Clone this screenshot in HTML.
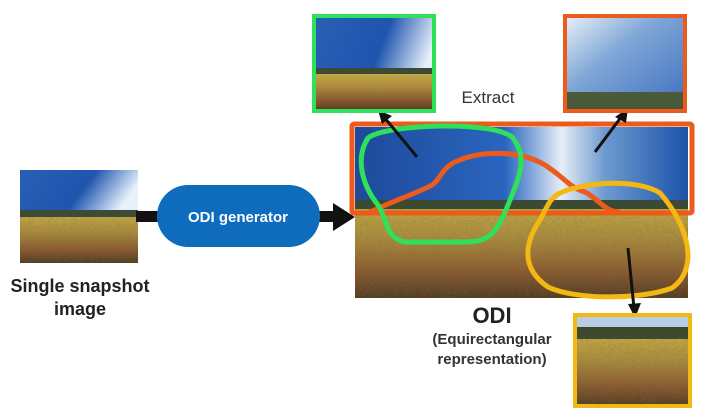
<!DOCTYPE html>
<html><head><meta charset="utf-8"><style>
html,body{margin:0;padding:0;background:#fff;}
svg{display:block;}
text{font-family:"Liberation Sans",sans-serif;}
</style></head><body>
<svg width="709" height="420" viewBox="0 0 709 420" xmlns="http://www.w3.org/2000/svg">
<defs>
<linearGradient id="skyL" x1="0" y1="0" x2="1" y2="0.3">
<stop offset="0" stop-color="#2a5fb5"/><stop offset="0.6" stop-color="#1f55ae"/><stop offset="1" stop-color="#e8f1fb"/>
</linearGradient>
<linearGradient id="field" x1="0" y1="0" x2="0" y2="1">
<stop offset="0" stop-color="#c2a845"/><stop offset="0.35" stop-color="#a98a3c"/><stop offset="0.7" stop-color="#8a5a30"/><stop offset="1" stop-color="#4e3a22"/>
</linearGradient>
<linearGradient id="pano" x1="0" y1="0" x2="1" y2="0">
<stop offset="0" stop-color="#1e4a9a"/><stop offset="0.45" stop-color="#2a65c0"/><stop offset="0.62" stop-color="#e6eef7"/><stop offset="0.75" stop-color="#6d9ad0"/><stop offset="1" stop-color="#1d52a8"/>
</linearGradient>
<linearGradient id="skyO" x1="0" y1="0" x2="1" y2="1">
<stop offset="0" stop-color="#e9f1fa"/><stop offset="0.4" stop-color="#7fa6d6"/><stop offset="1" stop-color="#3c6fc0"/>
</linearGradient>
<filter id="tex"><feTurbulence baseFrequency="0.35" numOctaves="2" seed="3"/><feColorMatrix values="0 0 0 0 0.2  0 0 0 0 0.15  0 0 0 0 0.05  0 0 0 0.5 0"/><feComposite in2="SourceGraphic" operator="in"/></filter>
</defs>

<rect x="20" y="170" width="118" height="48" fill="url(#skyL)"/>
<rect x="20" y="210" width="118" height="7" fill="#3d4a35"/>
<rect x="20" y="217" width="118" height="46" fill="url(#field)"/>
<rect x="20" y="217" width="118" height="46" fill="#000" filter="url(#tex)"/>
<rect x="136" y="211" width="24" height="11" fill="#111"/>
<rect x="318" y="211" width="18" height="11" fill="#111"/>
<polygon points="333,203 355,217 333,231" fill="#111"/>
<rect x="157" y="185" width="163" height="62" rx="31" fill="#0f6cbd"/>
<text x="238" y="222" font-size="15" font-weight="bold" fill="#fff" text-anchor="middle">ODI generator</text>
<text x="80" y="292" font-size="18" font-weight="bold" fill="#222" text-anchor="middle">Single snapshot</text>
<text x="80" y="315" font-size="18" font-weight="bold" fill="#222" text-anchor="middle">image</text>

<rect x="355" y="127" width="333" height="82" fill="url(#pano)"/>
<rect x="355" y="200" width="333" height="9" fill="#3b4a33"/>
<rect x="355" y="209" width="333" height="89" fill="url(#field)"/>
<rect x="355" y="209" width="333" height="89" fill="#000" filter="url(#tex)"/>
<rect x="352" y="124" width="340" height="89" fill="none" stroke="#ec5a1c" stroke-width="5" rx="2"/>
<path d="M368,213 C395,200 420,192 432,185 C440,180 442,168 455,162 C480,150 520,150 545,165 C565,178 570,188 585,192 C600,200 605,212 620,212" fill="none" stroke="#ec5a1c" stroke-width="5"/>
<path d="M368,138 C385,124 495,120 513,138 C528,158 520,175 508,205 C497,232 490,242 465,242 L405,242 C385,238 388,220 378,205 C362,185 355,158 368,138 Z" fill="none" stroke="#2fe05a" stroke-width="5"/>
<path d="M560,193 C590,180 640,180 660,193 C688,225 700,268 672,288 C640,300 575,300 548,287 C520,268 525,242 540,220 C548,205 550,198 560,193 Z" fill="none" stroke="#f4b814" stroke-width="5"/>
<line x1="417" y1="157" x2="384" y2="117" stroke="#111" stroke-width="3"/>
<polygon points="378,110 392,116 382,124" fill="#111"/>
<line x1="595" y1="152" x2="622" y2="116" stroke="#111" stroke-width="3"/>
<polygon points="628,108 626,123 615,117" fill="#111"/>
<line x1="628" y1="248" x2="634" y2="308" stroke="#111" stroke-width="3"/>
<polygon points="635,318 628,304 641,303" fill="#111"/>

<rect x="314" y="16" width="120" height="95" fill="url(#skyL)"/>
<rect x="314" y="68" width="120" height="6" fill="#3d4a35"/>
<rect x="314" y="74" width="120" height="37" fill="url(#field)"/>
<rect x="314" y="16" width="120" height="95" fill="none" stroke="#2fe05a" stroke-width="4"/>
<rect x="565" y="16" width="120" height="95" fill="url(#skyO)"/>
<rect x="565" y="92" width="120" height="19" fill="#4b5a3a"/>
<rect x="565" y="16" width="120" height="95" fill="none" stroke="#ec5a1c" stroke-width="4"/>
<rect x="575" y="315" width="115" height="91" fill="#b9cde6"/>
<rect x="575" y="327" width="115" height="12" fill="#3d4a30"/>
<rect x="575" y="339" width="115" height="67" fill="url(#field)"/>
<rect x="575" y="339" width="115" height="67" fill="#000" filter="url(#tex)"/>
<rect x="575" y="315" width="115" height="91" fill="none" stroke="#f4b814" stroke-width="4"/>

<text x="488" y="103" font-size="17" fill="#333" text-anchor="middle">Extract</text>
<text x="492" y="323" font-size="22" font-weight="bold" fill="#222" text-anchor="middle">ODI</text>
<text x="492" y="344" font-size="15" font-weight="bold" fill="#333" text-anchor="middle">(Equirectangular</text>
<text x="492" y="364" font-size="15" font-weight="bold" fill="#333" text-anchor="middle">representation)</text>
</svg>
</body></html>
